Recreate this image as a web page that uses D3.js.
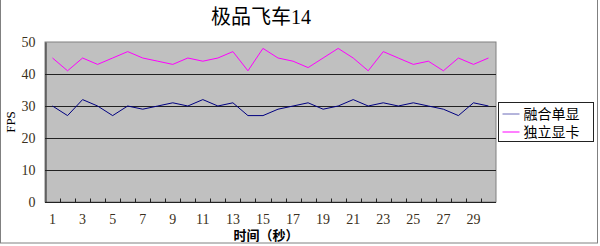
<!DOCTYPE html>
<html>
<head>
<meta charset="utf-8">
<script src="https://cdn.jsdelivr.net/npm/d3@7"></script>
<style>
  body { margin: 0; background: #fff; }
  text { font-family: "Liberation Serif", "Noto Sans CJK SC", serif; fill: #222; }
</style>
</head>
<body>
<div id="chart"></div>
<script>
var seconds = d3.range(1, 31);
var fusedGpu = [30, 27, 32, 30, 27, 30, 29, 30, 31, 30, 32, 30, 31, 27, 27, 29, 30, 31, 29, 30, 32, 30, 31, 30, 31, 30, 29, 27, 31, 30];
var discreteGpu = [45, 41, 45, 43, 45, 47, 45, 44, 43, 45, 44, 45, 47, 41, 48, 45, 44, 42, 45, 48, 45, 41, 47, 45, 43, 44, 41, 45, 43, 45];
var yTicks = [0, 10, 20, 30, 40, 50];
var seriesNames = ["融合单显", "独立显卡"];
var seriesColors = ["#000080", "#ff00ff"];

var W = 600, H = 246;
var plot = { left: 45, top: 42, right: 496, bottom: 202 };

var svg = d3.select("#chart").append("svg")
    .attr("width", W)
    .attr("height", H);

// chart border
svg.append("rect")
    .attr("x", 0.5).attr("y", -1)
    .attr("width", W - 3).attr("height", H - 2)
    .style("fill", "none")
    .style("stroke", "#808080");

var x = d3.scaleBand()
    .domain(seconds)
    .range([plot.left, plot.right]);

var y = d3.scaleLinear()
    .domain([0, 50])
    .range([plot.bottom, plot.top]);

// plot area
svg.append("rect")
    .attr("x", plot.left).attr("y", plot.top)
    .attr("width", plot.right - plot.left)
    .attr("height", plot.bottom - plot.top)
    .style("fill", "#c0c0c0")
    .style("stroke", "#808080");

// gridlines
svg.append("g").selectAll("line")
    .data(yTicks.slice(1, -1))
    .enter()
    .append("line")
    .attr("x1", plot.left).attr("x2", plot.right)
    .attr("y1", d => y(d) + 0.5).attr("y2", d => y(d) + 0.5)
    .style("stroke", "#222");

// y axis
var yAxis = svg.append("g")
    .attr("transform", "translate(" + (plot.left + 0.5) + ",0)")
    .call(d3.axisLeft(y).tickValues(yTicks).tickSize(0).tickPadding(10));
yAxis.select(".domain").style("stroke", "#222");
yAxis.selectAll("text")
    .style("font-size", "14px")
    .style("fill", "#3a3020");

// x axis, ticks between categories pointing inward
var xAxis = svg.append("g")
    .attr("transform", "translate(0," + (plot.bottom + 0.5) + ")");
xAxis.append("line")
    .attr("x1", plot.left).attr("x2", plot.right)
    .style("stroke", "#222");
xAxis.selectAll("line.tick")
    .data(seconds.slice(1))
    .enter()
    .append("line")
    .attr("class", "tick")
    .attr("x1", d => Math.round(x(d)) + 0.5).attr("x2", d => Math.round(x(d)) + 0.5)
    .attr("y1", 0).attr("y2", -4)
    .style("stroke", "#222");
xAxis.selectAll("text")
    .data(seconds.filter(d => d % 2 === 1))
    .enter()
    .append("text")
    .attr("x", d => x(d) + x.bandwidth() / 2)
    .attr("y", 21)
    .attr("text-anchor", "middle")
    .style("font-size", "14px")
    .style("fill", "#3a3020")
    .text(d => d);

// series lines
[fusedGpu, discreteGpu].forEach(function(values, i) {
    var line = d3.line()
        .x((d, j) => x(seconds[j]) + x.bandwidth() / 2)
        .y(d => y(d));
    svg.append("path")
        .datum(values)
        .attr("d", line)
        .style("fill", "none")
        .style("stroke", seriesColors[i])
        .style("stroke-width", 1);
});

// title: Chinese part plus serif digits
var title = svg.append("text")
    .attr("x", 261)
    .attr("y", 24)
    .attr("text-anchor", "middle")
    .style("font-size", "20px")
    .style("fill", "#000");
title.append("tspan").style("font-family", "'Noto Sans CJK SC'").text("极品飞车");
title.append("tspan").style("font-family", "'Liberation Serif'").text("14");

// axis titles
svg.append("text")
    .attr("transform", "translate(15,122) rotate(-90)")
    .attr("text-anchor", "middle")
    .style("font-size", "13px")
    .style("fill", "#000")
    .text("FPS");

svg.append("text")
    .attr("x", 266)
    .attr("y", 240)
    .attr("text-anchor", "middle")
    .style("font-size", "13px")
    .style("font-weight", "bold")
    .style("fill", "#000")
    .text("时间（秒）");

// legend
var legend = svg.append("g")
    .attr("transform", "translate(498.5,102.5)");
legend.append("rect")
    .attr("width", 95).attr("height", 39)
    .style("fill", "#fff")
    .style("stroke", "#222");
legend.selectAll("line")
    .data(seriesNames)
    .enter()
    .append("line")
    .attr("x1", 4).attr("x2", 21)
    .attr("y1", (d, i) => 11.5 + i * 18).attr("y2", (d, i) => 11.5 + i * 18)
    .style("stroke", (d, i) => i === 0 ? "#6a6ab8" : seriesColors[i]);
legend.selectAll("text")
    .data(seriesNames)
    .enter()
    .append("text")
    .attr("x", 25)
    .attr("y", (d, i) => 16.5 + i * 18)
    .style("font-size", "14px")
    .style("fill", "#000")
    .text(d => d);
</script>
</body>
</html>
